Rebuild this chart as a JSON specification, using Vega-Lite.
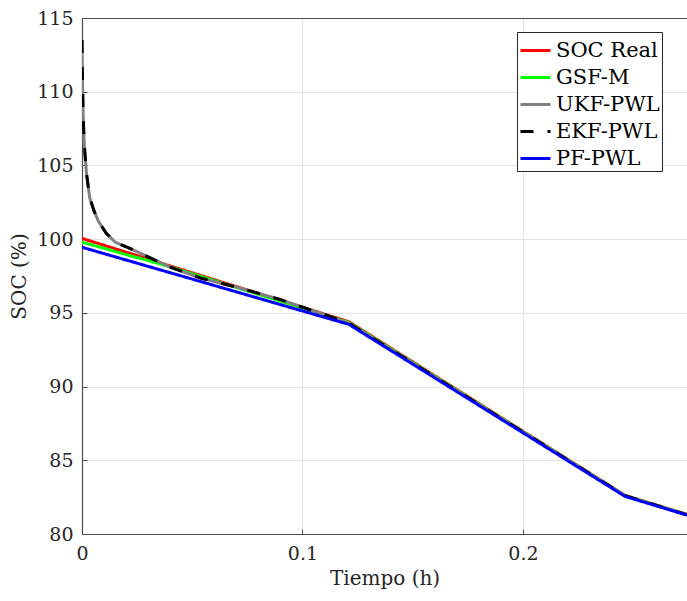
{
  "$schema": "https://vega.github.io/schema/vega-lite/v6.json",
  "width": 605,
  "height": 516,
  "autosize": {"type": "none"},
  "padding": {"top": 18, "left": 82, "right": 0, "bottom": 67},
  "background": "white",
  "config": {
    "font": "DejaVu Serif",
    "view": {"stroke": null},
    "axis": {
      "labelFont": "DejaVu Serif",
      "titleFont": "DejaVu Serif",
      "labelFontSize": 19,
      "titleFontSize": 20,
      "titleFontWeight": "normal",
      "labelColor": "#262626",
      "titleColor": "#262626",
      "domainColor": "#4d4d4d",
      "tickColor": "#4d4d4d",
      "gridColor": "#e3e3e3",
      "tickSize": -5,
      "labelFlush": false,
      "domainWidth": 1.2
    },
    "legend": {
      "labelFont": "DejaVu Serif",
      "labelFontSize": 21,
      "labelColor": "#000000"
    }
  },
  "data": {
    "values": [
      {"series": "SOC Real", "t": 0, "soc": 100.05},
      {"series": "SOC Real", "t": 0.121, "soc": 94.4},
      {"series": "SOC Real", "t": 0.2463, "soc": 82.62},
      {"series": "SOC Real", "t": 0.2744, "soc": 81.33},

      {"series": "GSF-M", "t": 0, "soc": 99.8},
      {"series": "GSF-M", "t": 0.01, "soc": 99.38},
      {"series": "GSF-M", "t": 0.02, "soc": 98.95},
      {"series": "GSF-M", "t": 0.03, "soc": 98.55},
      {"series": "GSF-M", "t": 0.04, "soc": 98.12},
      {"series": "GSF-M", "t": 0.121, "soc": 94.35},
      {"series": "GSF-M", "t": 0.2463, "soc": 82.6},
      {"series": "GSF-M", "t": 0.2744, "soc": 81.32},

      {"series": "UKF-PWL", "t": 0, "soc": 113.5},
      {"series": "UKF-PWL", "t": 0.0002, "soc": 111},
      {"series": "UKF-PWL", "t": 0.0005, "soc": 108.5},
      {"series": "UKF-PWL", "t": 0.001, "soc": 106.5},
      {"series": "UKF-PWL", "t": 0.002, "soc": 104.5},
      {"series": "UKF-PWL", "t": 0.0035, "soc": 102.8},
      {"series": "UKF-PWL", "t": 0.0055, "soc": 101.9},
      {"series": "UKF-PWL", "t": 0.0075, "soc": 101.2},
      {"series": "UKF-PWL", "t": 0.011, "soc": 100.4},
      {"series": "UKF-PWL", "t": 0.015, "soc": 99.8},
      {"series": "UKF-PWL", "t": 0.022, "soc": 99.35},
      {"series": "UKF-PWL", "t": 0.03, "soc": 98.8},
      {"series": "UKF-PWL", "t": 0.04, "soc": 98.1},
      {"series": "UKF-PWL", "t": 0.054, "soc": 97.35},
      {"series": "UKF-PWL", "t": 0.07, "soc": 96.75},
      {"series": "UKF-PWL", "t": 0.09, "soc": 95.9},
      {"series": "UKF-PWL", "t": 0.121, "soc": 94.3},
      {"series": "UKF-PWL", "t": 0.2463, "soc": 82.6},
      {"series": "UKF-PWL", "t": 0.2744, "soc": 81.3},

      {"series": "EKF-PWL", "t": 0, "soc": 113.5},
      {"series": "EKF-PWL", "t": 0.0002, "soc": 111},
      {"series": "EKF-PWL", "t": 0.0005, "soc": 108.5},
      {"series": "EKF-PWL", "t": 0.001, "soc": 106.5},
      {"series": "EKF-PWL", "t": 0.002, "soc": 104.5},
      {"series": "EKF-PWL", "t": 0.0035, "soc": 102.8},
      {"series": "EKF-PWL", "t": 0.0055, "soc": 101.9},
      {"series": "EKF-PWL", "t": 0.0075, "soc": 101.2},
      {"series": "EKF-PWL", "t": 0.011, "soc": 100.4},
      {"series": "EKF-PWL", "t": 0.015, "soc": 99.8},
      {"series": "EKF-PWL", "t": 0.022, "soc": 99.35},
      {"series": "EKF-PWL", "t": 0.03, "soc": 98.8},
      {"series": "EKF-PWL", "t": 0.04, "soc": 98.1},
      {"series": "EKF-PWL", "t": 0.054, "soc": 97.35},
      {"series": "EKF-PWL", "t": 0.07, "soc": 96.75},
      {"series": "EKF-PWL", "t": 0.09, "soc": 95.9},
      {"series": "EKF-PWL", "t": 0.121, "soc": 94.3},
      {"series": "EKF-PWL", "t": 0.2463, "soc": 82.6},
      {"series": "EKF-PWL", "t": 0.2744, "soc": 81.3},

      {"series": "PF-PWL", "t": 0, "soc": 99.45},
      {"series": "PF-PWL", "t": 0.121, "soc": 94.22},
      {"series": "PF-PWL", "t": 0.2463, "soc": 82.55},
      {"series": "PF-PWL", "t": 0.2744, "soc": 81.28}
    ]
  },
  "layer": [
    {
      "mark": {"type": "line", "strokeWidth": 3, "clip": true, "strokeCap": "butt"},
      "encoding": {
        "x": {
          "field": "t", "type": "quantitative",
          "scale": {"domain": [0, 0.2744], "nice": false, "zero": false},
          "axis": {"values": [0, 0.1, 0.2], "format": "~g", "title": "Tiempo (h)", "grid": true, "labelPadding": 15, "titlePadding": 5}
        },
        "y": {
          "field": "soc", "type": "quantitative",
          "scale": {"domain": [80, 115], "nice": false, "zero": false},
          "axis": {"values": [80, 85, 90, 95, 100, 105, 110, 115], "title": "SOC (%)", "grid": true, "labelPadding": 14, "titlePadding": 7}
        },
        "color": {
          "field": "series", "type": "nominal",
          "scale": {
            "domain": ["SOC Real", "GSF-M", "UKF-PWL", "EKF-PWL", "PF-PWL"],
            "range": ["#ff0000", "#00ff00", "#808080", "#000000", "#0000ff"]
          },
          "legend": {
            "title": null,
            "orient": "none",
            "legendX": 435,
            "legendY": 14,
            "symbolType": "stroke",
            "symbolSize": 900,
            "symbolStrokeWidth": 3,
            "strokeColor": "#262626",
            "fillColor": "white",
            "padding": 2,
            "rowPadding": -6,
            "labelOffset": 4
          }
        },
        "strokeDash": {
          "field": "series", "type": "nominal",
          "scale": {
            "domain": ["SOC Real", "GSF-M", "UKF-PWL", "EKF-PWL", "PF-PWL"],
            "range": [[1, 0], [1, 0], [1, 0], [13, 14], [1, 0]]
          },
          "legend": {
            "title": null,
            "orient": "none",
            "legendX": 435,
            "legendY": 14,
            "symbolType": "stroke",
            "symbolSize": 900,
            "symbolStrokeWidth": 3,
            "strokeColor": "#262626",
            "fillColor": "white",
            "padding": 2,
            "rowPadding": -6,
            "labelOffset": 4
          }
        }
      }
    },
    {
      "mark": {"type": "line", "opacity": 0},
      "encoding": {
        "x": {
          "field": "t", "type": "quantitative",
          "axis": {"orient": "top", "labels": false, "ticks": false, "grid": false, "title": null, "domain": true}
        },
        "y": {"field": "soc", "type": "quantitative"}
      }
    }
  ],
  "resolve": {"axis": {"x": "independent"}}
}
